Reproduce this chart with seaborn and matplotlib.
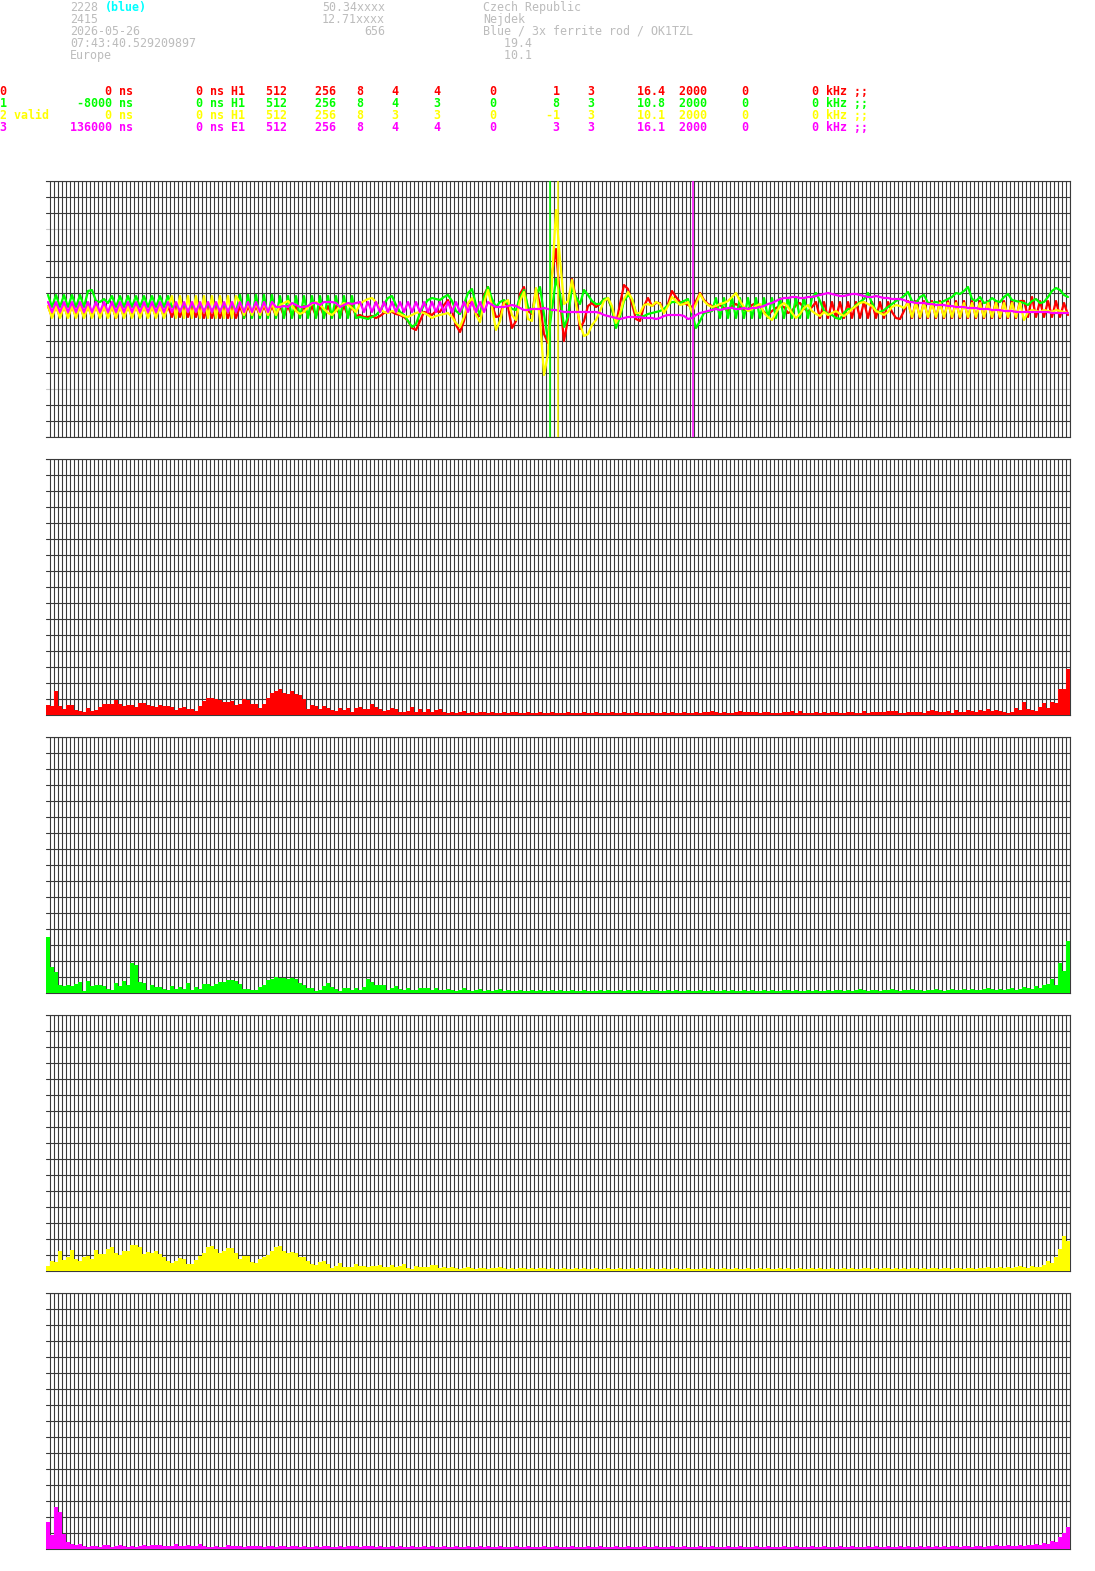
import numpy as np
import pandas as pd
import seaborn as sns
import matplotlib.pyplot as plt

# Station header
station_left = ["2228", "2415", "2026-05-26", "07:43:40.529209897", "Europe"]
station_mid = ["50.34xxxx", "12.71xxxx", "656", "", ""]
station_right = ["Czech Republic", "Nejdek", "Blue / 3x ferrite rod / OK1TZL", "   19.4", "   10.1"]
station_tag = "(blue)"

# Channel table
channel_names = ["0", "1", "2 valid", "3"]
offset_ns = [0, -8000, 0, 136000]
delay_ns = [0, 0, 0, 0]
antenna = ["H1", "H1", "H1", "E1"]
n_samples = [512, 512, 512, 512]
n_fft = [256, 256, 256, 256]
n_bits = [8, 8, 8, 8]
gain_a = [4, 4, 3, 4]
gain_b = [4, 3, 3, 4]
param_c = [0, 0, 0, 0]
param_d = [1, 8, -1, 3]
param_e = [3, 3, 3, 3]
peak_khz = [16.4, 10.8, 10.1, 16.1]
rate = [2000, 2000, 2000, 2000]
param_f = [0, 0, 0, 0]
filter_khz = [0, 0, 0, 0]

channel_colors = ["#ff0000", "#00ff00", "#ffff00", "#ff00ff"]

# Waveforms (one value per grid column, px from centre line)
wave_red = [
    3, -8, 3, -8, 3, -8, 3, -8, 3, -8, 3, -8, 3, -8, 3, -8,
    3, -9, 3, -8, 3, -8, 3, -8, 3, -8, 3, -8, 3, -8, 3, -8,
    3, -8, 3, -8, 3, -8, 3, -9, 3, -9, 3, -9, 3, -9, 3, -9,
    3, -9, 3, -7, 3, -7, 3, -7, 3, -7, 3, -7, 3, -7, 3, -7,
    3, -7, 3, -7, 3, -7, 3, -7, 3, -7, 3, -7, 3, -7, -6, -8,
    -8, -7, -9, -7, -4, -3, -3, -5, -6, -8, -12, -19, -21, -12, -3, -4,
    -6, -2, -3, 4, 9, -2, -16, -23, -12, 5, 9, -5, -7, 14, 22, 4,
    -8, -7, 8, 2, -19, -12, 15, 22, -2, -5, 20, 5, -25, -34, 35, 60,
    10, -32, -10, 30, 10, -20, -12, 3, 6, 2, 5, 10, 10, 0, -15, 5,
    24, 20, 5, -10, -12, 3, 11, 3, 6, 6, -3, 5, 18, 12, 7, 6,
    4, 2, 8, 16, 9, 5, 3, 2, 4, 1, -2, 3, 5, 2, -1, 0,
    4, 6, 3, -3, -6, -2, 1, 3, 2, -4, -2, 4, 6, 1, -3, 2,
    7, -9, 7, -9, 7, -9, 7, -9, 7, -9, 7, -9, 7, -9, 7, -9,
    7, -9, 7, -3, -9, -10, -2, 8, -9, 8, -9, 8, -9, 8, -9, 8,
    -9, 8, -9, 8, -9, 8, -9, 8, -9, 8, -9, 8, -9, 8, -9, 8,
    -9, 8, -9, 8, 8, -8, 12, -8, 8, -8, 8, -8, 8, -8, 6, -6,
]
wave_green = [
    14, 2, 14, 2, 14, 2, 14, 2, 14, 2, 18, 19, 8, 7, 10, 6,
    13, 2, 13, 2, 13, 2, 13, 2, 13, 2, 13, 2, 13, 2, 13, 2,
    5, -3, 5, -3, 5, -3, 5, -3, 5, -3, 5, -3, 5, -3, 5, -3,
    14, -9, 14, -9, 14, -9, 14, -9, 14, -9, 13, -9, 13, -9, 13, -9,
    13, -9, 13, -9, 13, -9, 13, -9, 13, -9, 13, -9, 13, -9, -8, -9,
    -10, -8, -6, -2, 5, 11, 13, 4, -3, -6, -12, -18, -15, -4, 4, 9,
    11, 10, 9, 12, 14, 8, -2, -5, 5, 16, 20, 4, -6, 12, 22, 10,
    2, 7, 9, 5, 0, -1, 12, 19, 2, -4, 14, 22, -5, -31, 0, 30,
    15, -18, -8, 22, 12, 5, 19, 14, 8, 5, 5, 10, 11, 0, -19, -8,
    8, 14, 10, -4, -8, -7, -5, -4, -3, -2, 0, 4, 7, 7, 6, 8,
    10, -5, -19, -12, -4, -3, -2, 11, -9, 11, -9, 11, -9, 11, -9, 11,
    -9, 11, -9, 11, -9, 11, -9, 11, -9, 11, -9, 11, -9, 11, -9, 11,
    16, 8, -2, -5, -6, -9, -10, -4, 0, 0, 4, 7, 10, 16, 6, -2,
    -3, -1, 2, 5, 8, 10, 13, 17, 8, 6, 12, 14, 6, 6, 7, 6,
    8, 10, 12, 16, 15, 18, 22, 10, 8, 12, 6, 7, 11, 8, 7, 12,
    15, 9, 8, 7, 6, 4, 8, 10, 6, 7, 12, 18, 21, 19, 14, 12,
]
wave_yellow = [
    3, -9, 3, -9, 3, -9, 3, -9, 3, -9, 3, -9, 3, -9, 3, -9,
    3, -9, 3, -9, 3, -9, 3, -9, 3, -9, 3, -9, 3, -9, 3, 13,
    -9, 13, -9, 13, -9, 13, -9, 13, -9, 13, -9, 13, -9, 13, -9, 13,
    6, -6, 6, -6, 6, -6, 6, -6, 6, -6, 4, 6, 8, 3, -2, -5,
    -3, 2, 5, 7, 4, 0, -4, -6, -2, 3, 6, 4, 1, -3, 5, 8,
    10, 11, 7, 0, -3, -4, -2, -3, -5, -7, -8, -6, -4, -3, -4, -6,
    -9, -7, -6, -5, -4, -8, -14, -18, -8, 6, 11, -6, -13, 6, 19, 2,
    -21, -12, 6, 9, -6, -11, 8, 17, -10, -12, 21, -10, -66, -45, 30, 99,
    50, 5, 8, 29, 5, -15, -27, -25, -16, -11, -2, 8, 11, 3, -14, -5,
    10, 17, 10, -4, -4, 4, 5, 3, 7, 5, -4, 3, 12, 8, 4, 5,
    7, -3, 5, 15, 8, 4, 2, 3, 5, 6, 8, 12, 16, 8, 2, -2,
    0, 3, 5, -4, -8, -11, -4, 3, 6, 2, -4, -9, -5, 1, 4, -2,
    -5, -7, -3, -6, -4, -2, -5, -7, -4, 0, 3, 6, 7, 5, 3, -2,
    -4, -6, -3, 2, 4, 3, 1, 6, -8, 6, -8, 6, -8, 6, -8, 6,
    -8, 6, -8, 6, -8, 6, -8, 6, -8, 6, -8, 6, -8, 6, -8, 6,
    -8, 6, -8, 6, -11, -3, -1, -2, -3, -1, -2, -3, -1, -2, -3, -4,
]
wave_magenta = [
    7, -3, 7, -3, 7, -3, 7, -3, 7, -3, 7, -3, 7, -3, 7, -3,
    7, -3, 7, -3, 7, -3, 7, -3, 7, -3, 7, -3, 7, -3, 7, -3,
    7, -3, 7, -3, 7, -3, 7, -3, 7, -3, 7, -3, 7, -3, 7, -3,
    7, -3, 7, -3, 7, -3, 7, -3, 7, 2, 2, 3, 2, 6, 4, 2,
    2, 3, 6, 6, 4, 7, 7, 7, 6, 2, 4, 6, 5, 6, 7, -3,
    7, -3, 7, -3, 7, -3, 7, -3, 7, -3, 7, -3, 7, -3, 7, -3,
    7, -3, 7, -3, 7, -3, 7, -3, 7, -3, 7, -3, 7, -3, 7, 4,
    2, 2, 2, 3, 4, 3, 1, -1, -1, 0, 0, 0, 1, 0, -1, -1,
    -2, -3, -3, -3, -3, -3, -3, -3, -3, -3, -4, -6, -7, -8, -9, -10,
    -9, -8, -8, -8, -8, -9, -9, -9, -10, -9, -7, -6, -6, -6, -6, -7,
    -10, -9, -6, -4, -3, -2, -1, 0, -1, 0, 1, 1, 0, 0, 1, 0,
    1, 1, 2, 3, 5, 6, 8, 10, 11, 11, 12, 12, 11, 11, 12, 12,
    13, 14, 15, 16, 15, 14, 13, 13, 14, 15, 15, 14, 13, 12, 12, 13,
    12, 11, 11, 10, 10, 10, 9, 7, 7, 6, 6, 6, 5, 5, 4, 4,
    4, 3, 3, 2, 2, 2, 1, 1, 1, 0, 0, 0, -1, -1, -1, -2,
    -2, -2, -3, -3, -3, -3, -3, -3, -3, -3, -3, -4, -4, -4, -4, -4,
]
trigger_bins = [125.5, 127.5, 161.25]
trigger_colors = ["#00ff00", "#ffff00", "#ff00ff"]

# Spectra (bar height in px, 256 bins)
spec_red = [
    10, 9, 24, 9, 6, 10, 10, 5, 4, 3, 7, 4, 5, 8, 11, 11, 11, 15, 11, 9,
    10, 10, 8, 12, 12, 10, 9, 8, 10, 9, 9, 8, 5, 7, 8, 6, 6, 4, 9, 14,
    17, 17, 16, 15, 13, 13, 14, 10, 11, 16, 15, 11, 11, 7, 11, 17, 22, 24, 26, 22,
    21, 24, 21, 20, 16, 6, 10, 9, 6, 9, 7, 5, 4, 7, 5, 7, 3, 7, 8, 6,
    6, 11, 8, 6, 4, 5, 7, 6, 3, 3, 4, 8, 3, 6, 3, 6, 3, 5, 6, 3,
    2, 3, 2, 3, 4, 2, 3, 2, 3, 3, 2, 3, 2, 2, 3, 2, 3, 3, 2, 2,
    3, 2, 2, 3, 2, 2, 3, 2, 2, 2, 3, 2, 2, 2, 3, 2, 2, 3, 2, 2,
    2, 3, 2, 2, 3, 2, 2, 3, 2, 2, 2, 3, 2, 2, 3, 2, 3, 2, 2, 3,
    2, 2, 3, 2, 3, 3, 4, 3, 2, 3, 2, 2, 3, 4, 3, 3, 3, 3, 2, 3,
    3, 2, 2, 2, 3, 3, 4, 2, 4, 2, 2, 2, 3, 2, 3, 2, 3, 3, 2, 2,
    3, 3, 2, 2, 4, 2, 3, 3, 3, 3, 4, 4, 4, 2, 2, 3, 3, 3, 3, 2,
    4, 5, 4, 3, 3, 4, 2, 5, 3, 3, 5, 4, 3, 5, 4, 6, 4, 5, 4, 3,
    2, 3, 7, 5, 13, 6, 5, 4, 8, 12, 7, 13, 12, 26, 26, 46,
]
spec_green = [
    56, 26, 21, 8, 7, 8, 7, 9, 11, 2, 12, 7, 8, 8, 7, 4, 3, 10, 7, 12,
    8, 30, 28, 11, 10, 3, 8, 6, 6, 4, 3, 7, 4, 6, 4, 10, 3, 6, 4, 9,
    9, 7, 9, 11, 11, 13, 13, 12, 9, 4, 4, 3, 3, 6, 8, 13, 14, 16, 15, 15,
    14, 15, 14, 10, 8, 5, 5, 2, 3, 7, 10, 6, 4, 2, 5, 5, 3, 5, 3, 6,
    14, 11, 8, 8, 8, 3, 5, 7, 4, 3, 5, 3, 3, 5, 5, 5, 3, 5, 3, 3,
    4, 3, 2, 3, 5, 3, 2, 3, 4, 2, 3, 2, 3, 4, 2, 3, 2, 2, 3, 2,
    2, 3, 2, 3, 2, 2, 3, 2, 3, 2, 2, 3, 2, 2, 3, 2, 2, 2, 3, 2,
    3, 2, 2, 3, 2, 3, 2, 2, 3, 2, 2, 3, 3, 2, 2, 3, 2, 3, 2, 2,
    3, 2, 2, 3, 2, 2, 3, 2, 2, 3, 2, 3, 2, 2, 3, 2, 3, 2, 2, 3,
    2, 3, 2, 2, 3, 3, 2, 3, 2, 2, 3, 2, 3, 2, 2, 3, 2, 3, 3, 2,
    3, 2, 3, 4, 3, 2, 3, 3, 2, 3, 3, 4, 3, 2, 3, 3, 4, 3, 3, 2,
    3, 3, 4, 3, 2, 3, 4, 3, 3, 4, 3, 4, 3, 3, 4, 5, 4, 3, 4, 3,
    4, 5, 3, 4, 6, 5, 4, 7, 5, 8, 9, 14, 8, 30, 22, 52,
]
spec_yellow = [
    5, 10, 9, 20, 11, 14, 21, 12, 10, 14, 15, 12, 21, 17, 17, 22, 24, 18, 16, 20,
    20, 26, 26, 24, 17, 19, 18, 20, 17, 14, 10, 8, 10, 13, 12, 7, 7, 11, 15, 18,
    24, 25, 22, 18, 20, 23, 23, 18, 12, 15, 15, 9, 8, 12, 14, 16, 20, 24, 25, 20,
    18, 19, 18, 14, 14, 10, 7, 6, 9, 10, 7, 3, 5, 8, 4, 4, 4, 7, 5, 5,
    4, 5, 5, 6, 4, 4, 6, 4, 5, 7, 3, 2, 5, 4, 4, 4, 6, 6, 3, 4,
    3, 4, 3, 2, 3, 4, 3, 2, 3, 3, 2, 3, 3, 4, 3, 2, 3, 2, 3, 3,
    2, 3, 2, 3, 3, 2, 3, 2, 2, 3, 2, 2, 3, 2, 3, 2, 2, 3, 2, 2,
    3, 2, 2, 3, 2, 2, 3, 2, 3, 2, 2, 3, 2, 2, 3, 2, 2, 3, 2, 2,
    3, 2, 2, 2, 3, 2, 3, 2, 2, 3, 2, 2, 3, 2, 2, 3, 2, 2, 3, 2,
    3, 2, 2, 3, 2, 3, 2, 2, 3, 2, 2, 3, 2, 3, 2, 2, 3, 2, 2, 3,
    2, 3, 2, 2, 3, 3, 2, 3, 2, 3, 3, 2, 3, 2, 3, 2, 3, 3, 2, 3,
    2, 3, 3, 2, 3, 3, 2, 3, 3, 2, 3, 3, 2, 3, 3, 4, 3, 3, 4, 3,
    4, 3, 4, 5, 4, 3, 5, 4, 4, 6, 10, 8, 14, 22, 35, 30,
]
spec_magenta = [
    27, 14, 42, 37, 15, 7, 5, 4, 5, 3, 2, 3, 3, 2, 4, 4, 2, 3, 4, 3,
    2, 3, 2, 3, 4, 3, 4, 4, 4, 3, 3, 3, 5, 3, 3, 4, 3, 3, 5, 3,
    2, 2, 3, 2, 2, 4, 3, 3, 3, 2, 3, 3, 3, 3, 2, 3, 3, 2, 3, 3,
    2, 3, 3, 2, 3, 2, 2, 3, 2, 3, 3, 2, 2, 3, 2, 3, 3, 3, 2, 3,
    3, 3, 2, 3, 2, 2, 3, 2, 3, 2, 2, 3, 2, 2, 3, 2, 3, 2, 2, 3,
    2, 2, 3, 2, 2, 3, 2, 2, 3, 2, 3, 2, 2, 3, 2, 2, 2, 3, 2, 2,
    3, 2, 2, 2, 3, 2, 2, 3, 2, 2, 2, 3, 2, 2, 2, 3, 2, 2, 3, 2,
    2, 2, 3, 2, 2, 3, 2, 2, 2, 3, 2, 2, 3, 2, 2, 2, 3, 2, 2, 3,
    2, 2, 2, 3, 2, 2, 3, 2, 2, 2, 3, 2, 2, 3, 2, 2, 2, 3, 2, 2,
    3, 2, 2, 2, 3, 2, 2, 3, 2, 2, 2, 3, 2, 2, 3, 2, 2, 2, 3, 2,
    2, 3, 2, 2, 2, 3, 2, 3, 2, 2, 3, 2, 2, 3, 2, 3, 2, 2, 3, 2,
    3, 2, 3, 2, 3, 2, 3, 3, 2, 3, 3, 2, 3, 3, 2, 3, 3, 4, 3, 3,
    4, 3, 3, 4, 3, 4, 4, 5, 4, 6, 5, 8, 7, 12, 16, 22,
]

W, H = 1095, 1571
GRID = "#3a3a3a"
HEADER_GRAY = "#bcbcbc"
FONT_SIZE = 8.37

sns.set_theme(style="white")
plt.rcParams["font.family"] = ["DejaVu Sans Mono"]

fig = plt.figure(figsize=(W / 100, H / 100), dpi=100)
fig.patch.set_facecolor("white")


def put(col, y, text, color, weight="normal", ha="left"):
    fig.text(col * 7 / W, 1 - (y + 4) / H, text, color=color, fontsize=FONT_SIZE,
             ha=ha, va="baseline", fontweight=weight)


# header block: left column, right-aligned middle column, right column
for i in range(5):
    put(10, 7 + 12 * i, station_left[i], HEADER_GRAY)
    if station_mid[i]:
        put(55, 7 + 12 * i, station_mid[i], HEADER_GRAY, ha="right")
    put(69, 7 + 12 * i, station_right[i], HEADER_GRAY)
put(15, 7, station_tag, "#00ffff", "bold")

# channel table
for i in range(4):
    row = (f"{channel_names[i]:<7}{offset_ns[i]:>9} ns{delay_ns[i]:>10} ns {antenna[i]}"
           f"{n_samples[i]:>6}{n_fft[i]:>7}{n_bits[i]:>4}{gain_a[i]:>5}{gain_b[i]:>6}"
           f"{param_c[i]:>8}{param_d[i]:>9}{param_e[i]:>5}{peak_khz[i]:>10.1f}"
           f"{rate[i]:>6}{param_f[i]:>6}{filter_khz[i]:>10} kHz ;;")
    put(0, 91 + 12 * i, row, channel_colors[i], "bold")


def panel(top):
    ax = fig.add_axes([46 / W, 1 - (top + 256) / H, 1024 / W, 256 / H])
    ax.set_facecolor("white")
    return ax


def style_grid(ax, yticks):
    ax.set_xlim(-0.5, 255.5)
    ax.set_xticks(np.arange(0.5, 256, 1))
    ax.set_yticks(yticks)
    ax.set_axisbelow(True)
    ax.grid(True, color=GRID, linewidth=0.8)
    ax.tick_params(length=0, labelbottom=False, labelleft=False)
    ax.set_xlabel("")
    ax.set_ylabel("")
    for name, sp in ax.spines.items():
        sp.set_visible(name != "left")
        sp.set_color(GRID)
        sp.set_linewidth(0.8)
        sp.set_zorder(0.5)


# waveform panel
bins = np.arange(256)
wave_df = pd.DataFrame({
    "bin": np.tile(bins, 4),
    "value": wave_red + wave_green + wave_yellow + wave_magenta,
    "channel": np.repeat(["0", "1", "2", "3"], 256),
})
wave_ticks = [v for v in range(-128, 129, 16) if v not in (-80, 0, 80)]
ax = panel(181)
ax.axhline(80, color="#c8c8c8", lw=0.8, zorder=0.4)
ax.axhline(-80, color="#c8c8c8", lw=0.8, zorder=0.4)
ax.axhline(0, color="white", lw=0.8, zorder=0.4)
sns.lineplot(data=wave_df, x="bin", y="value", hue="channel", palette=channel_colors,
             linewidth=1.6, legend=False, estimator=None, sort=False, ax=ax)
for b, c in zip(trigger_bins, trigger_colors):
    ax.axvline(b, color=c, lw=1.1, zorder=3)
style_grid(ax, wave_ticks)
ax.set_ylim(-128, 128)

# spectrum panels
spectra = [spec_red, spec_green, spec_yellow, spec_magenta]
tops = [459, 737, 1015, 1293]
for spec, color, top in zip(spectra, channel_colors, tops):
    ax = panel(top)
    spec_df = pd.DataFrame({"bin": bins, "value": spec})
    sns.barplot(data=spec_df, x="bin", y="value", color=color, saturation=1,
                width=1, linewidth=0, native_scale=True, ax=ax)
    ax.set_ylim(0, 256)
    style_grid(ax, np.arange(0, 257, 16))

fig.savefig("out.png", dpi=100, facecolor="white")
